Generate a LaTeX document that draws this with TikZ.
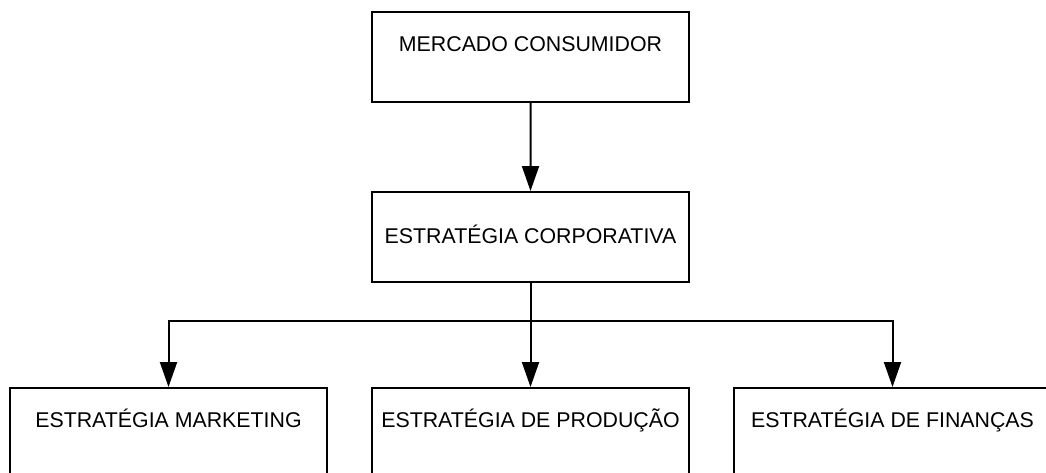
\documentclass[tikz,border=0pt]{standalone}
\usepackage{fontspec}
\setmainfont{Liberation Sans}
\usetikzlibrary{trees, arrows.meta}

\begin{document}
\begin{tikzpicture}[x=0.75pt, y=0.75pt,
  box/.style={draw, line width=1.5pt, minimum width=237.75pt, inner xsep=0pt, inner ysep=0pt,
    text height=29.25pt, text depth=38.25pt, font=\fontsize{16pt}{19pt}\selectfont},
  edge from parent/.style={draw, line width=1.5pt, -{Triangle[length=18.75pt, width=12.75pt]}},
  level 1/.style={level distance=135pt},
  level 2/.style={level distance=147pt, sibling distance=271.5pt, % bottom row
    edge from parent path={(\tikzparentnode.south) -- ++(0,-28.5pt) -| (\tikzchildnode.north)}}]

  \useasboundingbox (0,0) rectangle (1046,-472);
  \clip (0,0) rectangle (1046,-472);

  \node[box] (mercado) at (530.5,-57) {MERCADO CONSUMIDOR}
	child {node[box, text height=38.8pt, text depth=28.7pt] (corp) {ESTRATÉGIA CORPORATIVA}
		child {node[box] (mkt) {ESTRATÉGIA MARKETING}}
		child {node[box] (prod) {ESTRATÉGIA DE PRODUÇÃO}}
		child {node[box] (fin) {ESTRATÉGIA DE FINANÇAS}}
	};
\end{tikzpicture}
\end{document}
